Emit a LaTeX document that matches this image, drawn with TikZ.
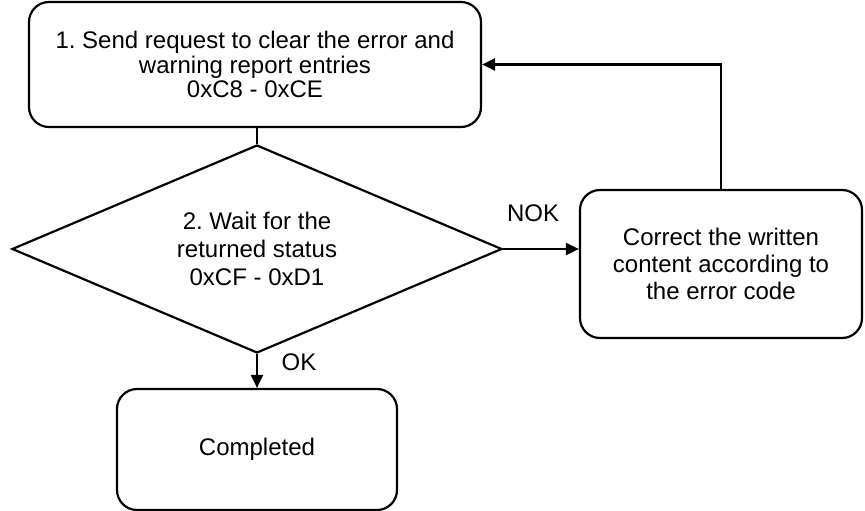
\documentclass[tikz,border=0pt]{standalone}
\usepackage{fontspec}
\setmainfont{Liberation Sans}
\frenchspacing
\usetikzlibrary{arrows.meta,shapes.geometric}

\begin{document}
\begin{tikzpicture}[x=1pt,y=-1pt,>={Triangle[length=13pt,width=12pt]},
  line width=2.2pt,
  stepbox/.style={draw, rounded corners=20pt, align=center, inner sep=0pt},
  decide/.style={draw, diamond, aspect=2.36, align=center, inner sep=0pt},
  lbl/.style={font=\fontsize{24}{27}\selectfont}]
  \useasboundingbox (0,0) rectangle (865,511);
  % Request box.
  \node[stepbox, minimum width=452pt, minimum height=125pt,
        font=\fontsize{24}{24.5}\selectfont] (req) at (255,64.5)
    {1. Send request to clear the error and\\warning report entries\\0xC8 - 0xCE};
  % Status decision.
  \node[decide, minimum width=490pt, minimum height=208pt,
        font=\fontsize{24}{28}\selectfont] (wait) at (257,249)
    {2. Wait for the\\returned status\\0xCF - 0xD1};
  % Correction box.
  \node[stepbox, minimum width=282pt, minimum height=148pt,
        font=\fontsize{24}{27.3}\selectfont] (fix) at (721,264)
    {Correct the written\\content according to\\the error code};
  % Final box.
  \node[stepbox, minimum width=280pt, minimum height=121pt,
        font=\fontsize{24}{27}\selectfont] (done) at (257,449.5) {Completed};
  % Connectors.
  \draw (wait.north |- req.south) -- (wait.north);
  \draw[->] (wait.east) -- (wait.east -| fix.west);
  \draw[->] (fix.north) |- (req.east);
  \draw[->] (wait.south) -- (done.north);
  \node[lbl] (nok) at (533,213) {NOK};
  \node[lbl] (ok) at (299,362) {OK};
\end{tikzpicture}
\end{document}
